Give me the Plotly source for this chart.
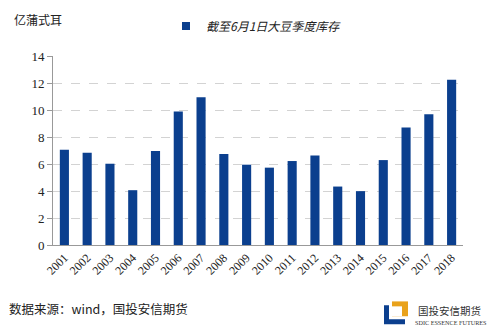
import plotly.graph_objects as go

years = [str(y) for y in range(2001, 2019)]
stocks = [7.05, 6.83, 6.02, 4.06, 6.97, 9.89, 10.94, 6.75, 5.95, 5.73,
          6.22, 6.63, 4.33, 3.99, 6.29, 8.71, 9.69, 12.24]
series_name = "截至6月1日大豆季度库存"
unit_label = "亿蒲式耳"
source_text = "数据来源：wind，国投安信期货"
y_ticks = [0, 2, 4, 6, 8, 10, 12, 14]

BLUE = "#0B3F8E"
L, R, T, B = 53, 37, 54, 90
PW, PH = 500 - L - R, 335 - T - B

def px(x):
    return (x - L) / PW

def py(y):
    return (335 - B - y) / PH

fig = go.Figure()
fig.add_trace(go.Bar(x=years, y=stocks, name=series_name, showlegend=False,
                     marker=dict(color=BLUE, line=dict(width=0))))
# legend entry with a small square swatch
fig.add_trace(go.Scatter(x=[None], y=[None], mode="markers", name=series_name,
                         marker=dict(symbol="square", size=8, color=BLUE)))

fig.update_layout(
    width=500, height=335,
    margin=dict(l=L, r=R, t=T, b=B),
    paper_bgcolor="white", plot_bgcolor="white",
    bargap=0.6,
    showlegend=True,
    legend=dict(orientation="h", x=px(166), y=py(9), xanchor="left", yanchor="top",
                font=dict(family="Noto Sans CJK SC", size=12, color="#222", style="italic"),
                bgcolor="rgba(0,0,0,0)", itemwidth=30),
    font=dict(family="Liberation Serif", size=12, color="#222"),
    xaxis=dict(type="category", showgrid=False, showline=True, linecolor="#999",
               linewidth=1, ticks="", tickangle=-45,
               tickfont=dict(family="Liberation Serif", size=12, color="#222")),
    yaxis=dict(range=[0, 14], tickvals=y_ticks, showgrid=True, gridcolor="#D3D3D3",
               griddash="dash", gridwidth=1, showline=True, linecolor="#999",
               linewidth=1, ticks="outside", ticklen=5, tickcolor="#999",
               zeroline=False,
               tickfont=dict(family="Liberation Serif", size=13, color="#222")),
)

fig.add_annotation(text=unit_label, xref="paper", yref="paper", x=px(12), y=py(17),
                   xanchor="left", yanchor="middle", showarrow=False,
                   font=dict(family="Noto Sans CJK SC", size=12, color="#222"))
fig.add_annotation(text=source_text, xref="paper", yref="paper", x=px(7), y=py(309),
                   xanchor="left", yanchor="middle", showarrow=False,
                   font=dict(family="Noto Sans CJK SC", size=12.5, color="#222"))

# logo
fig.add_shape(type="path", xref="paper", yref="paper",
              path=(f"M {px(384)},{py(306)} L {px(389)},{py(306)} L {px(389)},{py(320)} "
                    f"L {px(405)},{py(320)} L {px(405)},{py(325)} L {px(384)},{py(325)} Z"),
              fillcolor="#0B3F8E", line=dict(width=0))
fig.add_shape(type="rect", xref="paper", yref="paper",
              x0=px(392), x1=px(408), y0=py(302), y1=py(317),
              fillcolor="#E9A21B", line=dict(width=0))
fig.add_shape(type="rect", xref="paper", yref="paper",
              x0=px(392), x1=px(402), y0=py(307), y1=py(317),
              fillcolor="white", line=dict(width=0))
fig.add_annotation(text="国投安信期货", xref="paper", yref="paper", x=px(416), y=py(311),
                   xanchor="left", yanchor="middle", showarrow=False,
                   font=dict(family="Noto Sans CJK SC", size=10.5, color="#333"))
fig.add_annotation(text="SDIC ESSENCE FUTURES", xref="paper", yref="paper", x=px(489), y=py(323),
                   xanchor="right", yanchor="middle", showarrow=False,
                   font=dict(family="Liberation Serif", size=6.2, color="#333"))

fig.write_html("out.html")
